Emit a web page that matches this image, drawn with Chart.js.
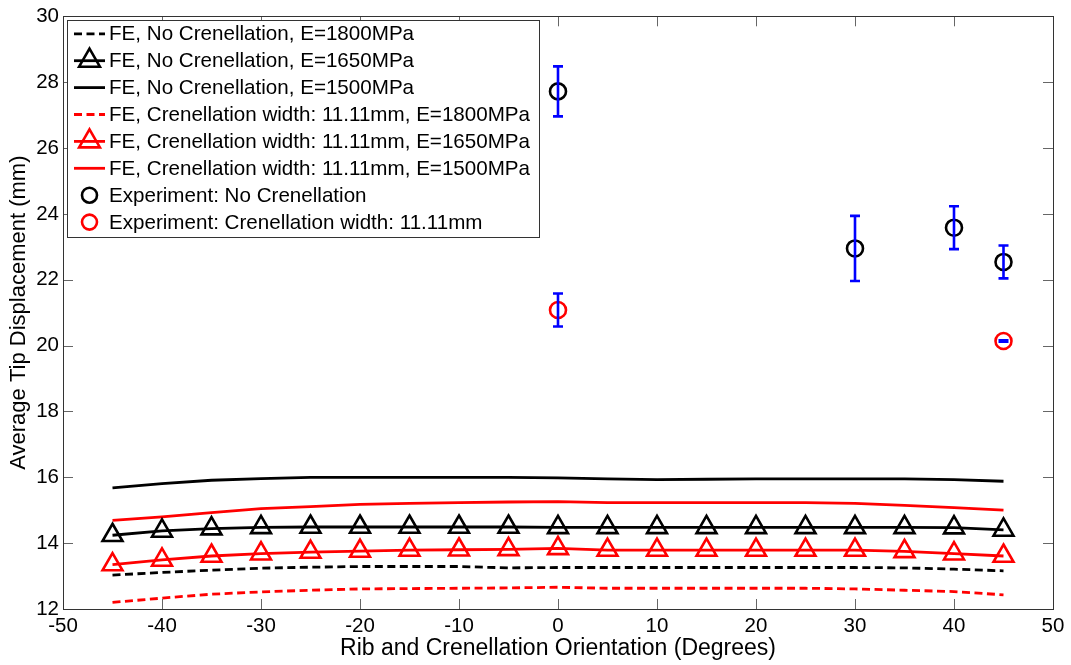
<!DOCTYPE html>
<html>
<head>
<meta charset="utf-8">
<script src="https://cdn.jsdelivr.net/npm/chart.js@4/dist/chart.umd.min.js"></script>
<style>
  html, body { margin: 0; padding: 0; background: #fff; }
  #wrap { width: 1071px; height: 665px; }
</style>
</head>
<body>
<div id="wrap"><canvas id="c" width="1071" height="665"></canvas></div>
<script>
// ---- Data ----
const angles = [-45,-40,-35,-30,-25,-20,-15,-10,-5,0,5,10,15,20,25,30,35,40,45];
const feNoCren1800 = [13.03,13.11,13.18,13.24,13.27,13.29,13.29,13.29,13.25,13.26,13.26,13.26,13.26,13.26,13.26,13.26,13.25,13.21,13.16];
const feNoCren1650 = [14.24,14.37,14.44,14.48,14.49,14.49,14.49,14.49,14.49,14.48,14.48,14.48,14.48,14.48,14.48,14.48,14.48,14.47,14.40];
const feNoCren1500 = [15.68,15.81,15.91,15.96,16.00,16.00,16.00,16.00,16.00,15.98,15.95,15.93,15.94,15.95,15.95,15.95,15.95,15.93,15.88];
const feCren1800 = [12.20,12.33,12.45,12.52,12.57,12.61,12.62,12.63,12.64,12.66,12.63,12.63,12.63,12.63,12.63,12.61,12.57,12.53,12.43];
const feCren1650 = [13.35,13.49,13.61,13.68,13.73,13.76,13.79,13.80,13.81,13.84,13.79,13.79,13.79,13.79,13.79,13.79,13.75,13.68,13.61];
const feCren1500 = [14.69,14.80,14.93,15.05,15.11,15.18,15.21,15.23,15.25,15.26,15.23,15.23,15.23,15.23,15.23,15.21,15.15,15.08,15.00];

const expNoCrenX = [0, 30, 40, 45];
const expNoCrenY = [27.72, 22.95, 23.58, 22.54];
const expNoCrenErr = [0.76, 0.99, 0.65, 0.50];
const expCrenX = [0, 45];
const expCrenY = [21.08, 20.14];
const expCrenErr = [0.50, 0.02];

const xTicks = [-50,-40,-30,-20,-10,0,10,20,30,40,50];
const yTicks = [12,14,16,18,20,22,24,26,28,30];

const legendLabels = [
  'FE, No Crenellation, E=1800MPa',
  'FE, No Crenellation, E=1650MPa',
  'FE, No Crenellation, E=1500MPa',
  'FE, Crenellation width: 11.11mm, E=1800MPa',
  'FE, Crenellation width: 11.11mm, E=1650MPa',
  'FE, Crenellation width: 11.11mm, E=1500MPa',
  'Experiment: No Crenellation',
  'Experiment: Crenellation width: 11.11mm'
];

// ---- Build datasets ----
const FONT = '"Liberation Sans", Arial, sans-serif';
const TRI_R = 11.5;
function pts(xs, ys) { return xs.map((x, i) => ({x: x, y: ys[i]})); }
function lineDs(label, ys, color, dash, tri) {
  return {
    label: label, data: pts(angles, ys), showLine: true,
    borderColor: color, backgroundColor: 'rgba(0,0,0,0)',
    borderWidth: 2.8, borderDash: dash,
    pointStyle: tri ? 'triangle' : 'circle',
    pointRadius: tri ? TRI_R : 0, pointHoverRadius: tri ? TRI_R : 0,
    pointBorderColor: color, pointBackgroundColor: 'rgba(0,0,0,0)',
    pointBorderWidth: 2.6, tension: 0
  };
}
function expDs(label, xs, ys, errs, color) {
  return {
    label: label, data: pts(xs, ys), showLine: false,
    borderColor: color, backgroundColor: 'rgba(0,0,0,0)',
    pointStyle: 'circle', pointRadius: 8, pointHoverRadius: 8,
    pointBorderColor: color, pointBackgroundColor: 'rgba(0,0,0,0)',
    pointBorderWidth: 2.6, errors: errs
  };
}
const datasets = [
  lineDs(legendLabels[0], feNoCren1800, '#000000', [8,4.5], false),
  lineDs(legendLabels[1], feNoCren1650, '#000000', [], true),
  lineDs(legendLabels[2], feNoCren1500, '#000000', [], false),
  lineDs(legendLabels[3], feCren1800, '#ff0000', [8,4.5], false),
  lineDs(legendLabels[4], feCren1650, '#ff0000', [], true),
  lineDs(legendLabels[5], feCren1500, '#ff0000', [], false),
  expDs(legendLabels[6], expNoCrenX, expNoCrenY, expNoCrenErr, '#000000'),
  expDs(legendLabels[7], expCrenX, expCrenY, expCrenErr, '#ff0000')
];

// ---- Plugins ----
const errorBars = {
  id: 'errorBars',
  afterDatasetsDraw(chart) {
    const ctx = chart.ctx, xs = chart.scales.x, ys = chart.scales.y;
    ctx.save();
    ctx.strokeStyle = '#0000ff';
    ctx.lineWidth = 2.6;
    chart.data.datasets.forEach(ds => {
      if (!ds.errors) return;
      ds.data.forEach((p, i) => {
        const e = ds.errors[i];
        const px = xs.getPixelForValue(p.x);
        const top = ys.getPixelForValue(p.y + e);
        const bot = ys.getPixelForValue(p.y - e);
        const cap = 5;
        ctx.beginPath();
        ctx.moveTo(px, top); ctx.lineTo(px, bot);
        ctx.moveTo(px - cap, top); ctx.lineTo(px + cap, top);
        ctx.moveTo(px - cap, bot); ctx.lineTo(px + cap, bot);
        ctx.stroke();
      });
    });
    ctx.restore();
  }
};

const boxTicks = {
  id: 'boxTicks',
  afterDraw(chart) {
    const ctx = chart.ctx, a = chart.chartArea;
    const xs = chart.scales.x, ys = chart.scales.y;
    const L = 10;
    ctx.save();
    ctx.strokeStyle = '#666666';
    ctx.lineWidth = 1;
    ctx.beginPath();
    xTicks.forEach(v => {
      const px = Math.round(xs.getPixelForValue(v)) + 0.5;
      ctx.moveTo(px, a.bottom); ctx.lineTo(px, a.bottom - L);
      ctx.moveTo(px, a.top); ctx.lineTo(px, a.top + L);
    });
    yTicks.forEach(v => {
      const py = Math.round(ys.getPixelForValue(v)) + 0.5;
      ctx.moveTo(a.left, py); ctx.lineTo(a.left + L, py);
      ctx.moveTo(a.right, py); ctx.lineTo(a.right - L, py);
    });
    ctx.stroke();
    ctx.strokeStyle = '#333333';
    ctx.strokeRect(Math.round(a.left) + 0.5, Math.round(a.top) + 0.5,
                   Math.round(a.right - a.left), Math.round(a.bottom - a.top));
    ctx.restore();
  }
};

const boxLegend = {
  id: 'boxLegend',
  afterDraw(chart) {
    const ctx = chart.ctx;
    const left = 67.5, top = 20.5, w = 472, h = 217;
    ctx.save();
    ctx.fillStyle = '#ffffff';
    ctx.fillRect(left, top, w, h);
    ctx.strokeStyle = '#333333';
    ctx.lineWidth = 1;
    ctx.strokeRect(left, top, w, h);
    ctx.font = '20.6px ' + FONT;
    ctx.textBaseline = 'middle';
    ctx.textAlign = 'left';
    const rowH = 26.9, y0 = 33.8;
    chart.data.datasets.forEach((ds, i) => {
      const y = y0 + i * rowH;
      const x1 = 74, x2 = 105, cx = (x1 + x2) / 2;
      ctx.strokeStyle = ds.borderColor;
      if (ds.showLine) {
        ctx.lineWidth = ds.borderWidth;
        ctx.setLineDash(ds.borderDash || []);
        ctx.beginPath(); ctx.moveTo(x1, y); ctx.lineTo(x2, y); ctx.stroke();
        ctx.setLineDash([]);
      }
      if (ds.pointRadius > 0) {
        ctx.lineWidth = ds.pointBorderWidth;
        ctx.beginPath();
        if (ds.pointStyle === 'triangle') {
          const r = 12;
          ctx.moveTo(cx, y - r);
          ctx.lineTo(cx + r * Math.sin(2*Math.PI/3), y + r/2);
          ctx.lineTo(cx - r * Math.sin(2*Math.PI/3), y + r/2);
          ctx.closePath();
        } else {
          ctx.arc(cx, y, 7.5, 0, Math.PI * 2);
        }
        ctx.stroke();
      }
      ctx.fillStyle = '#000000';
      ctx.fillText(ds.label, 109, y + 1);
    });
    ctx.restore();
  }
};

// ---- Chart ----
new Chart(document.getElementById('c'), {
  type: 'scatter',
  data: { datasets: datasets },
  options: {
    responsive: false,
    animation: false,
    events: [],
    layout: { padding: { left: 0, right: 18, top: 16, bottom: 0 } },
    plugins: { legend: { display: false }, tooltip: { enabled: false } },
    scales: {
      x: {
        type: 'linear', min: -50, max: 50,
        afterBuildTicks(s) { s.ticks = xTicks.map(v => ({value: v})); },
        afterFit(s) { s.height = 56; },
        grid: { display: false, drawTicks: false },
        border: { display: false },
        ticks: { color: '#000', font: { family: FONT, size: 20.5 }, padding: 5, maxRotation: 0, autoSkip: false },
        title: { display: true, text: 'Rib and Crenellation Orientation (Degrees)', color: '#000',
                 font: { family: FONT, size: 23 }, padding: { top: 0, bottom: 3 } }
      },
      y: {
        type: 'linear', min: 12, max: 30,
        afterBuildTicks(s) { s.ticks = yTicks.map(v => ({value: v})); },
        afterFit(s) { s.width = 63; },
        grid: { display: false, drawTicks: false },
        border: { display: false },
        ticks: { color: '#000', font: { family: FONT, size: 20.5 }, padding: 4 },
        title: { display: true, text: 'Average Tip Displacement (mm)', color: '#000',
                 font: { family: FONT, size: 22 }, padding: { top: 6, bottom: 0 } }
      }
    }
  },
  plugins: [errorBars, boxTicks, boxLegend]
});
</script>
</body>
</html>
